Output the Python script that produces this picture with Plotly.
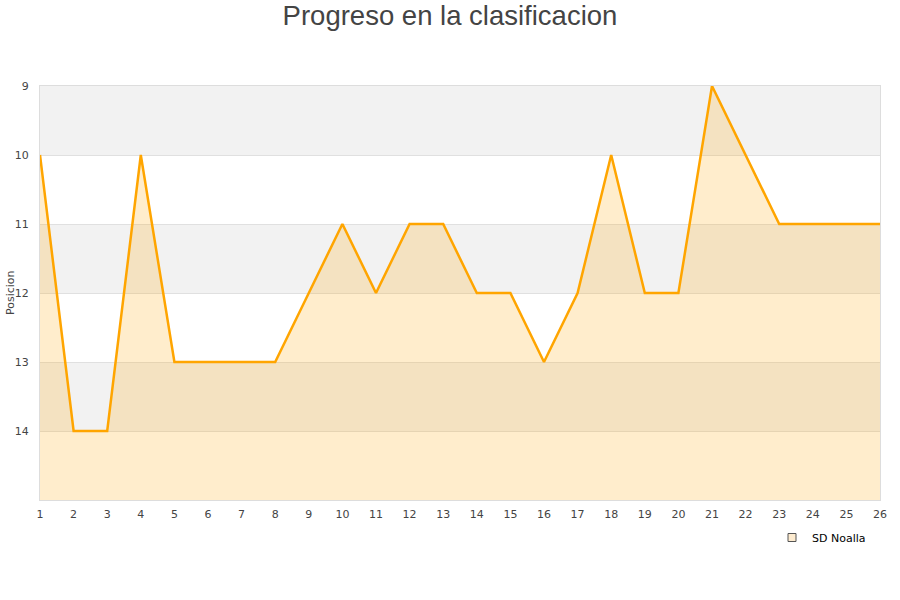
import plotly.graph_objects as go

jornadas = list(range(1, 27))
posiciones = [10, 14, 14, 10, 13, 13, 13, 13, 12, 11, 12, 11, 11, 12, 12, 13, 12, 10, 12, 12, 9, 10, 11, 11, 11, 11]
equipo = "SD Noalla"
y_ticks = [9, 10, 11, 12, 13, 14]
fondo = 15

fig = go.Figure()

# baseline for fill
fig.add_trace(go.Scatter(x=jornadas, y=[fondo] * len(jornadas), mode="lines",
                         line=dict(width=0, color="rgba(0,0,0,0)"), showlegend=False, hoverinfo="skip"))
fig.add_trace(go.Scatter(x=jornadas, y=posiciones, mode="lines", fill="tonexty",
                         fillcolor="rgba(255,165,0,0.2)",
                         line=dict(color="#ffa500", width=2.5), name=equipo, showlegend=False))
# legend marker
fig.add_trace(go.Scatter(x=[None], y=[None], mode="markers", name=equipo,
                         marker=dict(symbol="square", size=8, color="#fdebcf",
                                     line=dict(color="#555555", width=1))))

shapes = []
for i, t in enumerate(y_ticks):
    if i % 2 == 0:
        shapes.append(dict(type="rect", xref="paper", yref="y", x0=0, x1=1, y0=t, y1=t + 1,
                           fillcolor="#f2f2f2", line=dict(width=0), layer="below"))

W, H = 900, 600
L, R, T, B = 40, 20, 86, 100
plot_w = W - L - R
plot_h = H - T - B

fig.update_layout(
    width=W, height=H,
    paper_bgcolor="white", plot_bgcolor="white",
    margin=dict(l=L, r=R, t=T, b=B),
    title=dict(text="Progreso en la clasificacion", x=0.5, xanchor="center", y=1 - 15 / H, yanchor="middle",
               font=dict(family="Liberation Sans, Arial, sans-serif", size=27.5, color="#444444")),
    shapes=shapes,
    showlegend=True,
    legend=dict(x=(772 - L) / plot_w, y=-(23 / plot_h), xanchor="left", yanchor="top", bgcolor="rgba(0,0,0,0)",
                font=dict(family="DejaVu Sans, sans-serif", size=11, color="#000000")),
    font=dict(family="DejaVu Sans, sans-serif", size=11, color="#444444"),
    annotations=[dict(text="Posicion", xref="paper", yref="paper", x=(10 - L) / plot_w, y=0.5,
                      xanchor="center", yanchor="middle", textangle=-90, showarrow=False,
                      font=dict(size=11, color="#444444"))],
)
fig.update_xaxes(range=[1, 26], tickmode="array", tickvals=jornadas, showgrid=False, zeroline=False,
                 showline=True, linecolor="#dddddd", mirror=True, ticks="", ticklabelstandoff=4,
                 tickfont=dict(size=11, color="#444444"))
fig.update_yaxes(range=[15, 9], tickmode="array", tickvals=y_ticks, showgrid=True, gridcolor="#e0e0e0",
                 zeroline=False, showline=True, linecolor="#dddddd", mirror=True, ticks="",
                 ticklabelstandoff=8, tickfont=dict(size=11, color="#444444"))

fig.write_html("out.html", config={"displayModeBar": False},
               post_script="document.body.style.margin='0';")
